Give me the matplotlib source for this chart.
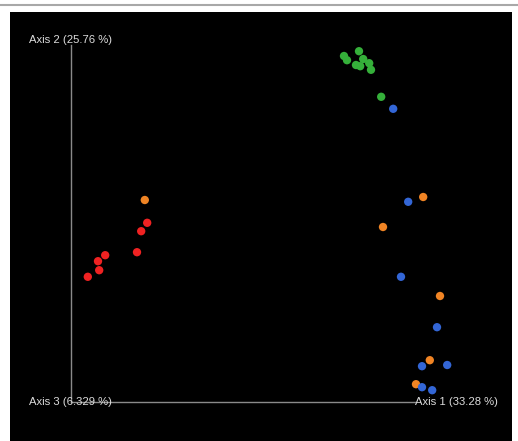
import matplotlib
matplotlib.use('Agg')
import matplotlib.pyplot as plt
from matplotlib.patches import Rectangle
from matplotlib.lines import Line2D

# PCoA scores (axis 1, axis 2) per group
red_pc1 = [-0.188, -0.198, -0.205, -0.258, -0.270, -0.268, -0.287]
red_pc2 = [0.012, -0.002, -0.037, -0.042, -0.052, -0.067, -0.078]
orange_pc1 = [-0.192, 0.272, 0.205, 0.300, 0.283, 0.260]
orange_pc2 = [0.050, 0.055, 0.005, -0.110, -0.217, -0.257]
blue_pc1 = [0.222, 0.247, 0.235, 0.295, 0.270, 0.312, 0.270, 0.287]
blue_pc2 = [0.202, 0.047, -0.078, -0.162, -0.227, -0.225, -0.262, -0.267]
green_pc1 = [0.165, 0.140, 0.145, 0.172, 0.160, 0.167, 0.182, 0.185, 0.202]
green_pc2 = [0.298, 0.290, 0.283, 0.285, 0.275, 0.273, 0.278, 0.267, 0.222]

axis_labels = ['Axis 1 (33.28 %)', 'Axis 2 (25.76 %)', 'Axis 3 (6.329 %)']

W, H = 518, 441
fig = plt.figure(figsize=(W / 100, H / 100), dpi=100)
fig.patch.set_facecolor('white')

# page decoration: grey rule and black canvas
fig.add_artist(Line2D([0, 1], [1 - 4.5 / H, 1 - 4.5 / H], color='#a8a8a8', lw=1.5,
                      zorder=-5))
fig.add_artist(Rectangle((10 / W, 0), 502 / W, (H - 12) / H, facecolor='black',
                         edgecolor='none', zorder=-5))

ax = fig.add_axes([0, 0, 1, 1])
ax.set_xlim(-260 / 600, (W - 260) / 600)
ax.set_ylim((230 - H) / 600, 230 / 600)
ax.axis('off')
ax.patch.set_alpha(0)

x0, y0 = (71 - 260) / 600, (230 - 402) / 600
x1, y1 = (415 - 260) / 600, (230 - 45) / 600
ax.plot([x0, x0], [y0, y1], color='#8a8a8a', lw=1)
ax.plot([x0, x1], [y0, y0], color='#8a8a8a', lw=1)

txt = dict(color='#dcdcdc', fontsize=8.1, family=['Liberation Sans', 'DejaVu Sans'])
ax.text((29 - 260) / 600, (230 - 40) / 600, axis_labels[1], va='center', ha='left', **txt)
ax.text((29 - 260) / 600, y0, axis_labels[2], va='center', ha='left', **txt)
ax.text(x1, y0, axis_labels[0], va='center', ha='left', **txt)

s = 36
ax.scatter(green_pc1, green_pc2, s=s, color='#35b03a', edgecolors='none', zorder=3)
ax.scatter(red_pc1, red_pc2, s=s, color='#f02222', edgecolors='none', zorder=3)
ax.scatter(orange_pc1, orange_pc2, s=s, color='#f08424', edgecolors='none', zorder=3)
ax.scatter(blue_pc1, blue_pc2, s=s, color='#3366d6', edgecolors='none', zorder=4)

fig.savefig('out.png', dpi=100, facecolor='white')
